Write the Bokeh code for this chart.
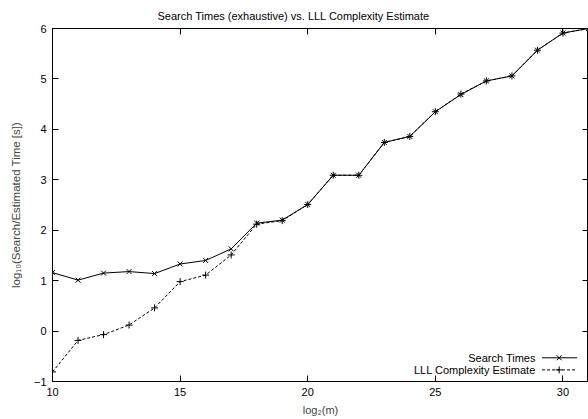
from bokeh.plotting import figure
from bokeh.models import LinearAxis, Range1d, FixedTicker, Label, CustomJSTickFormatter
from bokeh.embed import file_html
from bokeh.resources import INLINE

# data
log2_m = [10, 11, 12, 13, 14, 15, 16, 17, 18, 19, 20, 21, 22, 23, 24, 25, 26, 27, 28, 29, 30, 31]
search_times = [1.16, 1.01, 1.15, 1.18, 1.14, 1.33, 1.40, 1.63, 2.14, 2.20, 2.51, 3.09, 3.09, 3.74,
                3.86, 4.35, 4.69, 4.96, 5.06, 5.57, 5.91, 6.00]
lll_estimate = [-0.81, -0.185, -0.07, 0.12, 0.46, 0.98, 1.11, 1.51, 2.12, 2.19, 2.51, 3.09, 3.09, 3.74,
                3.86, 4.35, 4.70, 4.96, 5.06, 5.57, 5.91, 6.00]
x_ticks = [10, 15, 20, 25, 30]
y_ticks = [-1, 0, 1, 2, 3, 4, 5, 6]
series_names = ["Search Times", "LLL Complexity Estimate"]

FONT = "Liberation Sans"

p = figure(width=588, height=419, output_backend="svg", toolbar_location=None,
           x_range=Range1d(10, 31), y_range=Range1d(-1, 6),
           min_border_left=52, min_border_right=0, min_border_top=10, min_border_bottom=38,
           title="Search Times (exhaustive) vs. LLL Complexity Estimate")
p.title.align = "left"
p.title.offset = 105
p.title.text_font = FONT
p.title.text_font_size = "11px"
p.title.text_font_style = "normal"
p.title.text_color = "black"
p.title.standoff = 14

p.xgrid.visible = False
p.ygrid.visible = False
p.outline_line_color = "black"
p.outline_line_width = 1
p.outline_line_alpha = 1

for ax in (p.xaxis[0], p.yaxis[0]):
    ax.major_tick_in = 6
    ax.major_tick_out = 0
    ax.minor_tick_in = 0
    ax.minor_tick_out = 0
    ax.major_label_text_font = FONT
    ax.major_label_text_font_size = "11px"
    ax.major_label_text_color = "black"
    ax.axis_label_text_font = FONT
    ax.axis_label_text_font_size = "11px"
    ax.axis_label_text_font_style = "normal"
    ax.axis_line_color = "black"
    ax.major_tick_line_color = "black"

p.xaxis[0].ticker = FixedTicker(ticks=x_ticks)
p.yaxis[0].ticker = FixedTicker(ticks=y_ticks)
p.xaxis[0].axis_label = "log\u2082(m)"
p.yaxis[0].axis_label = "log\u2081\u2080(Search/Estimated Time [s])"
p.yaxis[0].axis_label_text_font_size = "11.5px"
p.xaxis[0].major_label_standoff = 6
p.xaxis[0].axis_label_standoff = 5
p.yaxis[0].major_label_standoff = 6
p.yaxis[0].axis_label_standoff = 9

empty = CustomJSTickFormatter(code="return ''")
top = LinearAxis(ticker=FixedTicker(ticks=x_ticks), formatter=empty,
                 major_tick_in=6, major_tick_out=0, minor_tick_in=0, minor_tick_out=0,
                 major_label_text_font_size="0px", major_label_standoff=0, axis_line_color=None)
right = LinearAxis(ticker=FixedTicker(ticks=y_ticks), formatter=empty,
                   major_tick_in=6, major_tick_out=0, minor_tick_in=0, minor_tick_out=0,
                   major_label_text_font_size="0px", major_label_standoff=0, axis_line_color=None)
p.add_layout(top, "above")
p.add_layout(right, "right")

# series
p.line(log2_m, lll_estimate, line_color="black", line_width=1, line_dash="3 2")
p.scatter(log2_m, lll_estimate, marker="cross", size=7, line_color="black", line_width=1)
p.line(log2_m, search_times, line_color="black", line_width=1)
p.scatter(log2_m, search_times, marker="x", size=7, line_color="black", line_width=1)

# legend (gnuplot style: text then sample)
leg_y = [-0.53, -0.77]
leg_x0, leg_x1, leg_xm = 29.18, 30.55, 29.85
p.line([leg_x0, leg_x1], [leg_y[0]] * 2, line_color="black", line_width=1)
p.scatter([leg_xm], [leg_y[0]], marker="x", size=7, line_color="black")
p.line([leg_x0, leg_x1], [leg_y[1]] * 2, line_color="black", line_width=1, line_dash="3 2")
p.scatter([leg_xm], [leg_y[1]], marker="cross", size=7, line_color="black")
for name, yy in zip(series_names, leg_y):
    p.add_layout(Label(x=leg_x0 - 0.25, y=yy, text=name, text_align="right", text_baseline="middle",
                       text_font=FONT, text_font_size="11px", text_color="black"))

open("out.html", "w").write(file_html(p, INLINE))
